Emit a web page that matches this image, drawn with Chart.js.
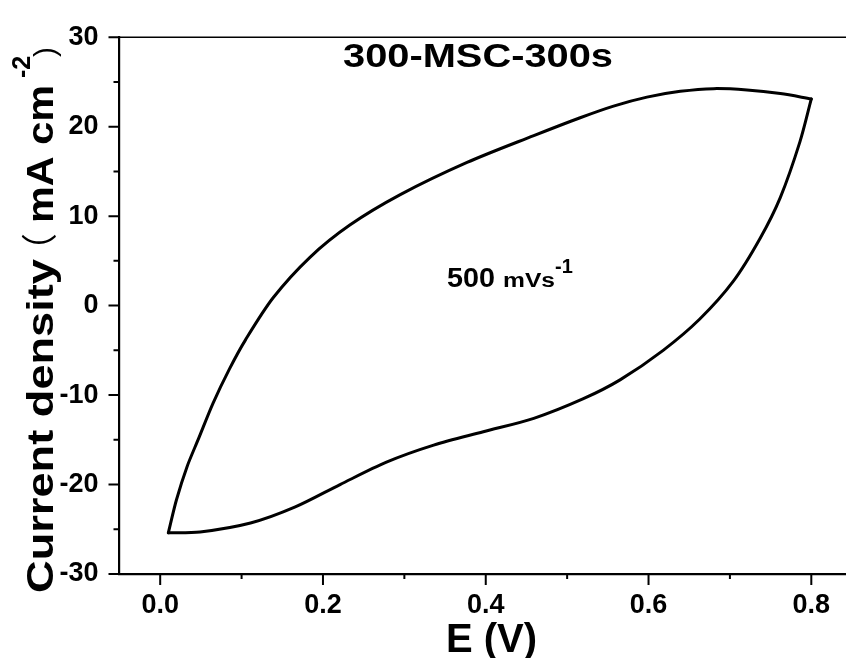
<!DOCTYPE html>
<html>
<head>
<meta charset="utf-8">
<script src="https://cdn.jsdelivr.net/npm/chart.js@4/dist/chart.umd.min.js"></script>
<style>
  html, body { margin: 0; padding: 0; background: #fff; overflow: hidden; }
  canvas { display: block; }
</style>
</head>
<body>
<canvas id="cv" width="860" height="658"></canvas>
<script>
// CV loop at 500 mV/s
// anodic sweep (upper branch), 0.01 -> 0.8 V
const E_up = [0.010, 0.020, 0.033, 0.047, 0.065, 0.085, 0.105, 0.139, 0.184, 0.233, 0.295, 0.377, 0.459, 0.516, 0.557, 0.598, 0.639, 0.680, 0.721, 0.762, 0.800];
const J_up = [-25.4, -21.7, -18.0, -14.9, -10.9, -7.1, -3.8, 0.9, 5.4, 9.0, 12.4, 16.0, 19.0, 21.0, 22.3, 23.3, 23.95, 24.25, 24.1, 23.7, 23.1];
// cathodic sweep (lower branch), 0.8 -> 0.01 V
const E_down = [0.800, 0.786, 0.762, 0.737, 0.704, 0.663, 0.618, 0.565, 0.520, 0.459, 0.397, 0.336, 0.278, 0.221, 0.166, 0.111, 0.049, 0.010];
const J_down = [23.1, 18.3, 12.1, 7.5, 2.7, -1.5, -5.0, -8.3, -10.4, -12.6, -14.1, -15.6, -17.5, -20.0, -22.5, -24.3, -25.3, -25.4];

const xMajor = [0.0, 0.2, 0.4, 0.6, 0.8];
const xMinor = [0.1, 0.3, 0.5, 0.7];
const yMajor = [-30, -20, -10, 0, 10, 20, 30];
const yMinor = [-25, -15, -5, 5, 15, 25];

const FONT = '"Liberation Sans", Arial, sans-serif';

function pts(xs, ys) {
    return xs.map((x, i) => ({ x: x, y: ys[i] }));
}

// draws text squeezed/stretched to a given length along its baseline
function fitText(ctx, text, x, y, width) {
    const w = ctx.measureText(text).width;
    ctx.save();
    ctx.translate(x, y);
    ctx.scale(width / w, 1);
    ctx.fillText(text, 0, 0);
    ctx.restore();
}

const decor = {
    id: 'decor',
    afterDraw(chart) {
        const ctx = chart.ctx;
        const xs = chart.scales.x, ys = chart.scales.y;
        const a = chart.chartArea;
        ctx.save();
        ctx.strokeStyle = '#000';
        ctx.fillStyle = '#000';

        // top frame line
        ctx.lineWidth = 1.5;
        ctx.beginPath();
        ctx.moveTo(a.left, a.top);
        ctx.lineTo(a.right, a.top);
        ctx.stroke();

        // tick marks
        ctx.lineWidth = 2;
        ctx.beginPath();
        xMajor.forEach(v => { const p = xs.getPixelForValue(v); ctx.moveTo(p, a.bottom); ctx.lineTo(p, a.bottom + 11); });
        xMinor.forEach(v => { const p = xs.getPixelForValue(v); ctx.moveTo(p, a.bottom); ctx.lineTo(p, a.bottom + 5); });
        yMajor.forEach(v => { const p = ys.getPixelForValue(v); ctx.moveTo(a.left, p); ctx.lineTo(a.left - 11, p); });
        yMinor.forEach(v => { const p = ys.getPixelForValue(v); ctx.moveTo(a.left, p); ctx.lineTo(a.left - 6, p); });
        ctx.stroke();

        // title inside plot
        ctx.textAlign = 'left';
        ctx.textBaseline = 'alphabetic';
        ctx.font = 'bold 34px ' + FONT;
        fitText(ctx, '300-MSC-300s', 343, 67, 270);

        // scan rate note
        ctx.font = 'bold 28px ' + FONT;
        fitText(ctx, '500', 447, 287, 48);
        ctx.font = 'bold 20px ' + FONT;
        fitText(ctx, 'mVs', 503, 287, 52);
        ctx.fillText('-1', 555, 273);

        // x axis title
        ctx.font = 'bold 40px ' + FONT;
        ctx.fillText('E (V)', 446, 652);

        // y axis title (rotated)
        ctx.save();
        ctx.translate(53, 593);
        ctx.rotate(-Math.PI / 2);
        ctx.font = 'bold 37px ' + FONT;
        fitText(ctx, 'Current density', 0, 0, 334);
        ctx.font = '36px "Noto Sans CJK SC", ' + FONT;
        ctx.fillText('（', 324, 0);
        ctx.font = 'bold 37px ' + FONT;
        fitText(ctx, 'mA cm', 370, 0, 138);
        ctx.restore();
        ctx.save();
        ctx.translate(30, 78);
        ctx.rotate(-Math.PI / 2);
        ctx.font = 'bold 25px ' + FONT;
        ctx.fillText('-2', 0, 0);
        ctx.restore();
        ctx.save();
        ctx.translate(55, 57);
        ctx.rotate(-Math.PI / 2);
        ctx.font = '30px ' + FONT;
        ctx.fillText(')', 0, 0);
        ctx.restore();

        ctx.restore();
    }
};

const lineStyle = {
    showLine: true,
    borderColor: '#000',
    borderWidth: 3,
    pointRadius: 0,
    tension: 0.3,
    borderCapStyle: 'round',
    borderJoinStyle: 'round',
    fill: false
};

new Chart(document.getElementById('cv'), {
    type: 'scatter',
    data: {
        datasets: [
            Object.assign({ label: 'anodic', data: pts(E_up, J_up) }, lineStyle),
            Object.assign({ label: 'cathodic', data: pts(E_down, J_down) }, lineStyle)
        ]
    },
    options: {
        responsive: false,
        animation: false,
        layout: { padding: { left: 0, top: 30, right: 8, bottom: 0 } },
        plugins: {
            legend: { display: false },
            tooltip: { enabled: false }
        },
        scales: {
            x: {
                type: 'linear',
                min: -0.05,
                max: 0.85,
                afterBuildTicks: s => { s.ticks = xMajor.map(v => ({ value: v })); },
                afterFit: s => { s.height = 84; },
                grid: { drawOnChartArea: false, drawTicks: false },
                border: { display: true, color: '#000', width: 2.2 },
                ticks: {
                    color: '#000',
                    padding: 15,
                    font: { family: FONT, size: 27, weight: 'bold' },
                    callback: v => v.toFixed(1)
                }
            },
            y: {
                type: 'linear',
                min: -30,
                max: 30,
                afterBuildTicks: s => { s.ticks = yMajor.map(v => ({ value: v })); },
                afterFit: s => { s.width = 119.5; },
                grid: { drawOnChartArea: false, drawTicks: false },
                border: { display: true, color: '#000', width: 2.2 },
                ticks: {
                    color: '#000',
                    padding: 21,
                    font: { family: FONT, size: 27, weight: 'bold' },
                    callback: v => String(v)
                }
            }
        }
    },
    plugins: [decor]
});
</script>
</body>
</html>
